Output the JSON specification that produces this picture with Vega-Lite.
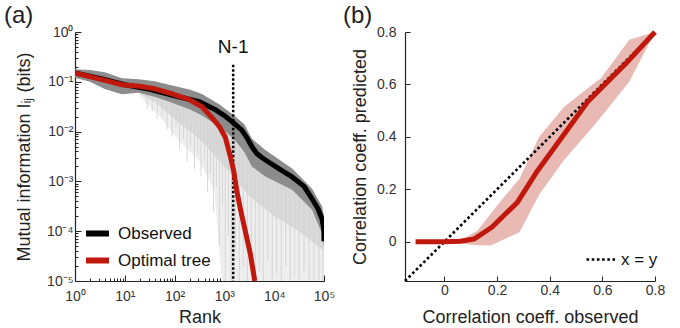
{
  "$schema": "https://vega.github.io/schema/vega-lite/v6.json",
  "padding": {"left": 4, "top": 4, "right": 5, "bottom": 2},
  "background": "white",
  "config": {
    "font": "Liberation Sans",
    "view": {"stroke": null},
    "axis": {
      "grid": false,
      "domain": true,
      "domainColor": "#222222",
      "domainWidth": 1.2,
      "tickColor": "#222222",
      "labelColor": "#333333",
      "labelFont": "Liberation Sans",
      "labelFontSize": 14,
      "titleFont": "Liberation Sans",
      "titleFontSize": 18,
      "titleFontWeight": "normal",
      "titleColor": "#222222"
    },
    "title": {"font": "Liberation Sans", "fontWeight": "normal", "fontSize": 24, "color": "#222222"}
  },
  "datasets": {
    "curves": [
      {"series": "Observed", "rank": 1, "mi": 0.151},
      {"series": "Observed", "rank": 3.16, "mi": 0.117},
      {"series": "Observed", "rank": 10, "mi": 0.0871},
      {"series": "Observed", "rank": 31.6, "mi": 0.0708},
      {"series": "Observed", "rank": 100, "mi": 0.0525},
      {"series": "Observed", "rank": 316, "mi": 0.0398},
      {"series": "Observed", "rank": 631, "mi": 0.0282},
      {"series": "Observed", "rank": 1000, "mi": 0.0209},
      {"series": "Observed", "rank": 1585, "mi": 0.0145},
      {"series": "Observed", "rank": 2239, "mi": 0.0107},
      {"series": "Observed", "rank": 2818, "mi": 0.00759},
      {"series": "Observed", "rank": 3548, "mi": 0.00501},
      {"series": "Observed", "rank": 4467, "mi": 0.00363},
      {"series": "Observed", "rank": 5623, "mi": 0.00302},
      {"series": "Observed", "rank": 7943, "mi": 0.0024},
      {"series": "Observed", "rank": 12590, "mi": 0.00178},
      {"series": "Observed", "rank": 22909, "mi": 0.00123},
      {"series": "Observed", "rank": 39811, "mi": 0.000794},
      {"series": "Observed", "rank": 57544, "mi": 0.000447},
      {"series": "Observed", "rank": 75858, "mi": 0.000282},
      {"series": "Observed", "rank": 91201, "mi": 0.000178},
      {"series": "Observed", "rank": 99000, "mi": 0.000112},
      {"series": "Observed", "rank": 100000, "mi": 0.0000631},
      {"series": "Optimal tree", "rank": 1, "mi": 0.151},
      {"series": "Optimal tree", "rank": 3.98, "mi": 0.107},
      {"series": "Optimal tree", "rank": 8.91, "mi": 0.0871},
      {"series": "Optimal tree", "rank": 19.95, "mi": 0.0813},
      {"series": "Optimal tree", "rank": 39.8, "mi": 0.0724},
      {"series": "Optimal tree", "rank": 89.1, "mi": 0.0575},
      {"series": "Optimal tree", "rank": 199.5, "mi": 0.0437},
      {"series": "Optimal tree", "rank": 354.8, "mi": 0.0316},
      {"series": "Optimal tree", "rank": 562.3, "mi": 0.0191},
      {"series": "Optimal tree", "rank": 794.3, "mi": 0.0126},
      {"series": "Optimal tree", "rank": 1047, "mi": 0.00759},
      {"series": "Optimal tree", "rank": 1318, "mi": 0.00316},
      {"series": "Optimal tree", "rank": 1549, "mi": 0.00158},
      {"series": "Optimal tree", "rank": 1778, "mi": 0.000631},
      {"series": "Optimal tree", "rank": 2089, "mi": 0.000282},
      {"series": "Optimal tree", "rank": 2630, "mi": 0.0001},
      {"series": "Optimal tree", "rank": 3311, "mi": 0.0000355},
      {"series": "Optimal tree", "rank": 4074, "mi": 0.00001}
    ],
    "band": [
      {"rank": 1, "hi": 0.178, "lo": 0.12},
      {"rank": 2.0, "hi": 0.172, "lo": 0.1},
      {"rank": 3.98, "hi": 0.155, "lo": 0.072},
      {"rank": 8.71, "hi": 0.118, "lo": 0.056},
      {"rank": 19.05, "hi": 0.113, "lo": 0.06},
      {"rank": 39.8, "hi": 0.103, "lo": 0.05},
      {"rank": 89.1, "hi": 0.084, "lo": 0.038},
      {"rank": 199.5, "hi": 0.07, "lo": 0.028},
      {"rank": 354.8, "hi": 0.057, "lo": 0.021},
      {"rank": 794.3, "hi": 0.035, "lo": 0.0125},
      {"rank": 1549, "hi": 0.0214, "lo": 0.0072},
      {"rank": 2512, "hi": 0.0141, "lo": 0.0039},
      {"rank": 3548, "hi": 0.00724, "lo": 0.002},
      {"rank": 6607, "hi": 0.00427, "lo": 0.00125},
      {"rank": 22909, "hi": 0.00182, "lo": 0.00068},
      {"rank": 57544, "hi": 0.000708, "lo": 0.00027},
      {"rank": 91201, "hi": 0.000316, "lo": 0.00009},
      {"rank": 100000, "hi": 0.0002, "lo": 0.0000501}
    ],
    "hazeLight": [
      {"rank": 19.95, "hi": 0.0794, "lo": 0.0501},
      {"rank": 50.1, "hi": 0.0631, "lo": 0.02},
      {"rank": 125.9, "hi": 0.0501, "lo": 0.00631},
      {"rank": 316.2, "hi": 0.0316, "lo": 0.00251},
      {"rank": 631, "hi": 0.0251, "lo": 0.000631},
      {"rank": 891, "hi": 0.02, "lo": 0.00001},
      {"rank": 100000, "hi": 0.000126, "lo": 0.00001}
    ],
    "hazeMid": [
      {"rank": 19.95, "hi": 0.0794, "lo": 0.0562},
      {"rank": 39.8, "hi": 0.0631, "lo": 0.0398},
      {"rank": 100, "hi": 0.0501, "lo": 0.0178},
      {"rank": 316.2, "hi": 0.0316, "lo": 0.00708},
      {"rank": 1000, "hi": 0.0158, "lo": 0.002},
      {"rank": 3162, "hi": 0.00501, "lo": 0.000501},
      {"rank": 10000, "hi": 0.00251, "lo": 0.0002},
      {"rank": 31623, "hi": 0.001, "lo": 0.0001},
      {"rank": 100000, "hi": 0.000126, "lo": 0.0000398}
    ],
    "spikes": [
      {"rank": 28.2, "hi": 0.0562, "lo": 0.0282},
      {"rank": 35.5, "hi": 0.0525, "lo": 0.0251},
      {"rank": 44.7, "hi": 0.0501, "lo": 0.0178},
      {"rank": 56.2, "hi": 0.0468, "lo": 0.02},
      {"rank": 70.8, "hi": 0.0427, "lo": 0.0112},
      {"rank": 89.1, "hi": 0.0398, "lo": 0.00794},
      {"rank": 107.2, "hi": 0.0372, "lo": 0.0126},
      {"rank": 125.9, "hi": 0.0347, "lo": 0.00447},
      {"rank": 151.4, "hi": 0.0316, "lo": 0.00708},
      {"rank": 177.8, "hi": 0.0302, "lo": 0.00251},
      {"rank": 208.9, "hi": 0.0282, "lo": 0.00501},
      {"rank": 251.2, "hi": 0.0251, "lo": 0.00178},
      {"rank": 295.1, "hi": 0.024, "lo": 0.00355},
      {"rank": 338.8, "hi": 0.0219, "lo": 0.00126},
      {"rank": 398.1, "hi": 0.02, "lo": 0.00251},
      {"rank": 457.1, "hi": 0.0182, "lo": 0.000631},
      {"rank": 524.8, "hi": 0.0166, "lo": 0.00141},
      {"rank": 602.6, "hi": 0.0151, "lo": 0.000251},
      {"rank": 691.8, "hi": 0.0138, "lo": 0.000794},
      {"rank": 794.3, "hi": 0.0126, "lo": 0.0000501},
      {"rank": 912, "hi": 0.0117, "lo": 0.000316},
      {"rank": 1047, "hi": 0.0105, "lo": 0.00001},
      {"rank": 1202, "hi": 0.00891, "lo": 0.0000794},
      {"rank": 1380, "hi": 0.00794, "lo": 0.00001},
      {"rank": 1660, "hi": 0.00631, "lo": 0.0000398},
      {"rank": 1995, "hi": 0.00501, "lo": 0.00001},
      {"rank": 2399, "hi": 0.00398, "lo": 0.00002},
      {"rank": 2884, "hi": 0.00282, "lo": 0.00001},
      {"rank": 3467, "hi": 0.00209, "lo": 0.0000316},
      {"rank": 4169, "hi": 0.00166, "lo": 0.00001},
      {"rank": 5012, "hi": 0.00141, "lo": 0.0000158},
      {"rank": 6026, "hi": 0.00126, "lo": 0.00001},
      {"rank": 7413, "hi": 0.00112, "lo": 0.0000251},
      {"rank": 9120, "hi": 0.001, "lo": 0.00001},
      {"rank": 11220, "hi": 0.000933, "lo": 0.0000141},
      {"rank": 13804, "hi": 0.000871, "lo": 0.00001},
      {"rank": 16982, "hi": 0.000794, "lo": 0.00002},
      {"rank": 20893, "hi": 0.000708, "lo": 0.00001},
      {"rank": 25704, "hi": 0.000631, "lo": 0.0000126},
      {"rank": 31623, "hi": 0.000501, "lo": 0.00001},
      {"rank": 39811, "hi": 0.000398, "lo": 0.0000158},
      {"rank": 50119, "hi": 0.000316, "lo": 0.00001},
      {"rank": 63096, "hi": 0.000224, "lo": 0.00001},
      {"rank": 79433, "hi": 0.000141, "lo": 0.00001},
      {"rank": 95499, "hi": 0.0001, "lo": 0.00001}
    ],
    "cutoff": [{"rank": 1500, "top": 0.22, "bottom": 0.00001, "textY": 0.5, "label": "N-1"}],
    "predicted": [
      {"obs": -0.11, "pred": 0},
      {"obs": 0, "pred": 0},
      {"obs": 0.06, "pred": 0.002},
      {"obs": 0.112, "pred": 0.01},
      {"obs": 0.18, "pred": 0.055},
      {"obs": 0.277, "pred": 0.15},
      {"obs": 0.353, "pred": 0.27},
      {"obs": 0.44, "pred": 0.39},
      {"obs": 0.544, "pred": 0.534},
      {"obs": 0.696, "pred": 0.687},
      {"obs": 0.8, "pred": 0.8}
    ],
    "spread": [
      {"obs": 0, "hi": 0, "lo": 0},
      {"obs": 0.06, "hi": 0.004, "lo": -0.005},
      {"obs": 0.1, "hi": 0.027, "lo": -0.012},
      {"obs": 0.125, "hi": 0.042, "lo": -0.014},
      {"obs": 0.175, "hi": 0.106, "lo": -0.015},
      {"obs": 0.2, "hi": 0.138, "lo": -0.003},
      {"obs": 0.285, "hi": 0.24, "lo": 0.036},
      {"obs": 0.36, "hi": 0.4, "lo": 0.18},
      {"obs": 0.455, "hi": 0.515, "lo": 0.313},
      {"obs": 0.569, "hi": 0.604, "lo": 0.444},
      {"obs": 0.594, "hi": 0.623, "lo": 0.475},
      {"obs": 0.702, "hi": 0.77, "lo": 0.61},
      {"obs": 0.8, "hi": 0.8, "lo": 0.8}
    ],
    "identity": [
      {"obs": -0.15, "pred": -0.15, "key": "x = y"},
      {"obs": 0.8, "pred": 0.8, "key": "x = y"}
    ]
  },
  "spacing": 8,
  "resolve": {"scale": {"color": "independent"}, "legend": {"color": "independent"}},
  "hconcat": [
    {
      "width": 249,
      "height": 249,
      "title": {"text": "(a)", "anchor": "start", "frame": "group", "dx": -71, "offset": -3},
      "layer": [
        {
          "data": {"name": "hazeLight"},
          "mark": {"type": "area", "color": "#eeeeee", "clip": true},
          "encoding": {
            "x": {
              "field": "rank", "type": "quantitative",
              "scale": {"type": "log", "domain": [1, 100000], "nice": false},
              "axis": {
                "title": "Rank",
                "values": [1,2,3,4,5,6,7,8,9,10,20,30,40,50,60,70,80,90,100,200,300,400,500,600,700,800,900,1000,2000,3000,4000,5000,6000,7000,8000,9000,10000,20000,30000,40000,50000,60000,70000,80000,90000,100000],
                "labelExpr": "abs(log(datum.value)/LN10 - round(log(datum.value)/LN10)) > 0.01 ? '' : '10' + (datum.value < 0.5 ? '⁻' : '') + ['⁰','¹','²','³','⁴','⁵'][abs(round(log(datum.value)/LN10))]",
                "labelOverlap": false,
                "labelFlush": false,
                "tickSize": {"condition": {"test": "abs(log(datum.value)/LN10 - round(log(datum.value)/LN10)) < 0.01", "value": -6}, "value": -3},
                "labelPadding": 14,
                "titlePadding": 2
              }
            },
            "y": {
              "field": "hi", "type": "quantitative",
              "scale": {"type": "log", "domain": [0.00001, 1], "nice": false},
              "axis": {
                "title": "Mutual information Iᵢⱼ (bits)",
                "values": [0.00001,0.00002,0.00003,0.00004,0.00005,0.00006,0.00007,0.00008,0.00009,0.0001,0.0002,0.0003,0.0004,0.0005,0.0006,0.0007,0.0008,0.0009,0.001,0.002,0.003,0.004,0.005,0.006,0.007,0.008,0.009,0.01,0.02,0.03,0.04,0.05,0.06,0.07,0.08,0.09,0.1,0.2,0.3,0.4,0.5,0.6,0.7,0.8,0.9,1],
                "labelExpr": "abs(log(datum.value)/LN10 - round(log(datum.value)/LN10)) > 0.01 ? '' : '10' + (datum.value < 0.5 ? '⁻' : '') + ['⁰','¹','²','³','⁴','⁵'][abs(round(log(datum.value)/LN10))]",
                "labelOverlap": false,
                "labelFlush": false,
                "tickSize": {"condition": {"test": "abs(log(datum.value)/LN10 - round(log(datum.value)/LN10)) < 0.01", "value": -6}, "value": -3},
                "labelPadding": 8,
                "titlePadding": 13
              }
            },
            "y2": {"field": "lo"}
          }
        },
        {
          "data": {"name": "hazeMid"},
          "mark": {"type": "area", "color": "#d9d9d9", "clip": true},
          "encoding": {
            "x": {"field": "rank", "type": "quantitative"},
            "y": {"field": "hi", "type": "quantitative"},
            "y2": {"field": "lo"}
          }
        },
        {
          "data": {"name": "spikes"},
          "mark": {"type": "rule", "color": "#d2d2d2", "strokeWidth": 0.9, "clip": true},
          "encoding": {
            "x": {"field": "rank", "type": "quantitative"},
            "y": {"field": "hi", "type": "quantitative"},
            "y2": {"field": "lo"}
          }
        },
        {
          "data": {"name": "band"},
          "mark": {"type": "area", "color": "#8c8c8c", "clip": true},
          "encoding": {
            "x": {"field": "rank", "type": "quantitative"},
            "y": {"field": "hi", "type": "quantitative"},
            "y2": {"field": "lo"}
          }
        },
        {
          "data": {"name": "cutoff"},
          "mark": {"type": "rule", "color": "black", "strokeWidth": 2.5, "strokeDash": [2.5, 2], "strokeCap": "butt"},
          "encoding": {
            "x": {"field": "rank", "type": "quantitative"},
            "y": {"field": "top", "type": "quantitative"},
            "y2": {"field": "bottom"}
          }
        },
        {
          "data": {"name": "curves"},
          "mark": {"type": "line", "strokeWidth": 5, "clip": true, "strokeJoin": "round"},
          "encoding": {
            "x": {"field": "rank", "type": "quantitative"},
            "y": {"field": "mi", "type": "quantitative"},
            "color": {
              "field": "series", "type": "nominal",
              "scale": {"domain": ["Observed", "Optimal tree"], "range": ["#000000", "#c0180c"]},
              "legend": {
                "title": null,
                "orient": "none",
                "legendX": 8,
                "legendY": 187,
                "symbolType": "stroke",
                "symbolSize": 529,
                "symbolStrokeWidth": 6,
                "labelFontSize": 17,
                "labelColor": "#111111",
                "labelOffset": 6,
                "rowPadding": 0
              }
            }
          }
        },
        {
          "data": {"name": "cutoff"},
          "mark": {"type": "text", "fontSize": 19, "color": "#111111", "align": "center", "baseline": "middle"},
          "encoding": {
            "x": {"field": "rank", "type": "quantitative"},
            "y": {"field": "textY", "type": "quantitative"},
            "text": {"field": "label"}
          }
        }
      ]
    },
    {
      "width": 250,
      "height": 249,
      "title": {"text": "(b)", "anchor": "start", "frame": "group", "dx": -62, "offset": -3},
      "layer": [
        {
          "data": {"name": "spread"},
          "mark": {"type": "area", "color": "#e9b9b4"},
          "encoding": {
            "x": {
              "field": "obs", "type": "quantitative",
              "scale": {"domain": [-0.15, 0.8], "nice": false, "zero": false},
              "axis": {
                "title": "Correlation coeff. observed",
                "values": [0, 0.2, 0.4, 0.6, 0.8],
                "format": ".1~f",
                "tickSize": -5,
                "labelPadding": 7,
                "labelFlush": false,
                "titlePadding": 11
              }
            },
            "y": {
              "field": "hi", "type": "quantitative",
              "scale": {"domain": [-0.15, 0.8], "nice": false, "zero": false},
              "axis": {
                "title": "Correlation coeff. predicted",
                "values": [0, 0.2, 0.4, 0.6, 0.8],
                "format": ".1~f",
                "tickSize": -5,
                "labelPadding": 14,
                "labelFlush": false,
                "titlePadding": 7
              }
            },
            "y2": {"field": "lo"}
          }
        },
        {
          "data": {"name": "identity"},
          "mark": {"type": "line", "strokeWidth": 2.6, "strokeDash": [2.6, 2.6], "strokeCap": "butt"},
          "encoding": {
            "x": {"field": "obs", "type": "quantitative"},
            "y": {"field": "pred", "type": "quantitative"},
            "color": {
              "field": "key", "type": "nominal",
              "scale": {"domain": ["x = y"], "range": ["#000000"]},
              "legend": {
                "title": null,
                "orient": "none",
                "legendX": 180,
                "legendY": 211,
                "symbolType": "stroke",
                "symbolSize": 900,
                "symbolStrokeWidth": 2.6,
                "symbolDash": [2.6, 2.6],
                "labelFontSize": 17,
                "labelColor": "#111111",
                "labelOffset": 3
              }
            }
          }
        },
        {
          "data": {"name": "predicted"},
          "mark": {"type": "line", "color": "#c0180c", "strokeWidth": 5, "strokeJoin": "round"},
          "encoding": {
            "x": {"field": "obs", "type": "quantitative"},
            "y": {"field": "pred", "type": "quantitative"}
          }
        }
      ]
    }
  ]
}
